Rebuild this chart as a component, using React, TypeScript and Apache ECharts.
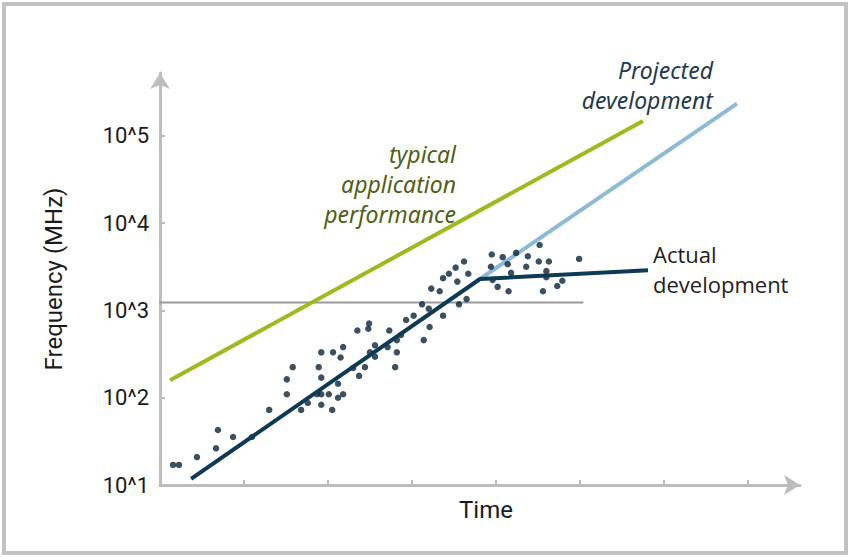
import React, { useEffect, useRef } from "react";
import * as echarts from "echarts";

// x: time (arbitrary units), y: log10 of frequency in MHz
const yTickExponents = [1, 2, 3, 4, 5];
const xTickValues = [1, 2, 3, 4, 5, 6, 7];

const typicalPerformance: [number, number][] = [
  [0.12, 2.2],
  [5.75, 5.17],
];
const projectedDevelopment: [number, number][] = [
  [3.81, 3.36],
  [6.87, 5.37],
];
const actualDevelopment: [number, number][] = [
  [0.37, 1.07],
  [3.81, 3.36],
  [5.81, 3.46],
];
const referenceLevel: [number, number][] = [
  [-0.04, 3.09],
  [5.04, 3.09],
];
const measuredProcessors: [number, number][] = [
  [0.155, 1.23], [0.226, 1.23], [0.44, 1.32], [0.667, 1.42], [0.69, 1.63],
  [0.87, 1.55], [1.095, 1.55], [1.3, 1.86], [1.51, 2.21], [1.58, 2.35],
  [1.51, 2.04], [1.68, 1.86], [1.76, 1.94], [1.89, 2.35], [1.92, 2.52],
  [1.92, 2.23], [1.92, 2.04], [1.92, 1.92], [1.87, 2.04], [2.01, 2.04],
  [2.05, 1.86], [2.06, 2.52], [2.12, 2.16], [2.12, 2.0], [2.15, 2.46],
  [2.18, 2.58], [2.18, 2.04], [2.3, 2.34], [2.37, 2.25], [2.35, 2.77],
  [2.48, 2.79], [2.49, 2.85], [2.44, 2.35], [2.5, 2.52], [2.56, 2.6],
  [2.56, 2.47], [2.71, 2.58], [2.73, 2.77], [2.8, 2.35], [2.82, 2.52],
  [2.82, 2.66], [2.87, 2.72], [2.93, 2.89], [3.02, 2.94], [3.12, 3.07],
  [3.14, 2.66], [3.2, 3.02], [3.21, 2.81], [3.23, 3.25], [3.33, 3.22],
  [3.37, 2.94], [3.37, 3.37], [3.44, 3.42], [3.52, 3.49], [3.54, 3.33],
  [3.62, 3.56], [3.67, 3.42], [3.65, 3.13], [3.56, 3.07], [3.95, 3.64],
  [3.94, 3.5], [4.08, 3.61], [4.14, 3.53], [4.24, 3.66], [3.96, 3.35],
  [4.02, 3.27], [4.15, 3.22], [4.18, 3.43], [4.38, 3.62], [4.36, 3.5],
  [4.52, 3.75], [4.51, 3.56], [4.63, 3.56], [4.6, 3.45], [4.6, 3.38],
  [4.56, 3.22], [4.73, 3.28], [4.79, 3.34], [4.99, 3.59],
];

const AXIS_GRAY = "#bdbdbd";

export default function App() {
  const ref = useRef<HTMLDivElement>(null);

  useEffect(() => {
    if (!ref.current) return;
    const chart = echarts.init(ref.current, undefined, { renderer: "svg" });
    chart.setOption({
      animation: false,
      backgroundColor: "#ffffff",
      grid: { left: 160, right: 50, top: 73, bottom: 72, containLabel: false },
      xAxis: {
        type: "value",
        min: 0,
        max: 7.62,
        name: "Time",
        nameLocation: "middle",
        nameGap: 13,
        nameTextStyle: {
          fontFamily: "Roboto",
          fontSize: 24,
          color: "#1a1a1a",
          verticalAlign: "top",
          padding: [0, 0, 0, 12],
        },
        axisLine: {
          show: true,
          lineStyle: { color: AXIS_GRAY, width: 3 },
          symbol: ["none", "arrow"],
          symbolSize: [15, 16],
          symbolOffset: [0, 0],
        },
        axisTick: {
          show: true,
          inside: true,
          length: 5,
          lineStyle: { color: AXIS_GRAY, width: 2 },
          customValues: xTickValues,
        },
        axisLabel: { show: false },
        splitLine: { show: false },
      },
      yAxis: {
        type: "value",
        min: 1,
        max: 5.72,
        name: "Frequency (MHz)",
        nameLocation: "middle",
        nameRotate: 90,
        nameGap: 94,
        nameTextStyle: { fontFamily: "Roboto", fontSize: 24, color: "#1a1a1a" },
        axisLine: {
          show: true,
          lineStyle: { color: AXIS_GRAY, width: 3 },
          symbol: ["none", "arrow"],
          symbolSize: [15, 16],
          symbolOffset: [0, 0],
        },
        axisTick: {
          show: true,
          inside: true,
          length: 5,
          lineStyle: { color: AXIS_GRAY, width: 2 },
          customValues: yTickExponents,
        },
        axisLabel: {
          show: true,
          customValues: yTickExponents,
          margin: 11,
          fontFamily: "Roboto",
          fontSize: 22,
          color: "#1a1a1a",
          formatter: (v: number) => `10^${v}`,
        },
        splitLine: { show: false },
      },
      series: [
        {
          type: "line",
          data: referenceLevel,
          showSymbol: false,
          lineStyle: { color: "#9a9a9a", width: 2 },
          z: 1,
        },
        {
          type: "line",
          data: typicalPerformance,
          showSymbol: false,
          lineStyle: { color: "#9dba1e", width: 4 },
          z: 3,
        },
        {
          type: "line",
          data: projectedDevelopment,
          showSymbol: false,
          lineStyle: { color: "#8dbad6", width: 4 },
          z: 3,
        },
        {
          type: "scatter",
          data: measuredProcessors,
          symbol: "circle",
          symbolSize: 6.5,
          itemStyle: { color: "#0a2438" },
          z: 4,
        },
        {
          type: "line",
          data: actualDevelopment,
          showSymbol: false,
          lineStyle: { color: "#0f3a56", width: 4 },
          z: 5,
        },
      ],
      graphic: [
        {
          type: "rect",
          shape: { x: 4, y: 4, width: 842, height: 549 },
          style: { fill: "none", stroke: "#c2c2c2", lineWidth: 4 },
          silent: true,
        },
        {
          type: "text",
          x: 456,
          y: 184,
          style: {
            text: "typical\napplication\nperformance",
            fontFamily: "Noto Sans",
            fontStyle: "italic",
            fontSize: 23,
            lineHeight: 30,
            fill: "#4f5f15",
            align: "right",
            verticalAlign: "middle",
          },
        },
        {
          type: "text",
          x: 713,
          y: 85,
          style: {
            text: "Projected\ndevelopment",
            fontFamily: "Noto Sans",
            fontStyle: "italic",
            fontSize: 23,
            lineHeight: 30,
            fill: "#1f3b4f",
            align: "right",
            verticalAlign: "middle",
          },
        },
        {
          type: "text",
          x: 653,
          y: 269,
          style: {
            text: "Actual\ndevelopment",
            fontFamily: "Open Sans",
            fontSize: 22,
            lineHeight: 30,
            fill: "#1e1e1e",
            align: "left",
            verticalAlign: "middle",
          },
        },
      ],
    });
    return () => chart.dispose();
  }, []);

  return (
    <div
      ref={ref}
      style={{ position: "fixed", left: 0, top: 0, width: 850, height: 557 }}
    />
  );
}
